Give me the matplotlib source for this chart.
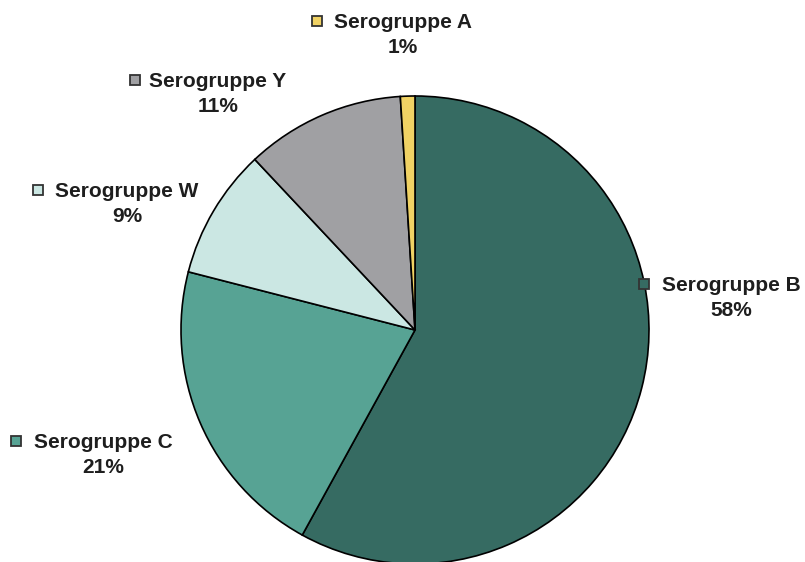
import matplotlib.pyplot as plt
from matplotlib.patches import Rectangle

# -----------------------------
# Data
# -----------------------------
groups = ["Serogruppe B", "Serogruppe C", "Serogruppe W", "Serogruppe Y", "Serogruppe A"]
shares = [58, 21, 9, 11, 1]
colors = ["#366b62", "#57a394", "#cbe7e3", "#a0a0a3", "#f0d264"]

# label layout in pixels: (text centre x, first-line baseline y, marker x)
label_pos = {
    "Serogruppe B": (731, 291, 644),
    "Serogruppe C": (103, 448, 16),
    "Serogruppe W": (127, 197, 38),
    "Serogruppe Y": (218, 87, 135),
    "Serogruppe A": (403, 28, 317),
}

W, H = 805, 562
cx, cy, r = 415, 330, 234


def px(x, y):
    return (x - cx) / r, (cy - y) / r


fig = plt.figure(figsize=(W / 100, H / 100), dpi=100)
ax = fig.add_axes([0, 0, 1, 1])

ax.pie(shares, colors=colors, startangle=90, counterclock=False, radius=1,
       wedgeprops={"edgecolor": "black", "linewidth": 1.2})

ax.set_xlim(-cx / r, (W - cx) / r)
ax.set_ylim(-(H - cy) / r, cy / r)
ax.set_aspect("equal")
ax.axis("off")

font = dict(fontsize=15, fontweight="bold", family="Liberation Sans", color="#1e1e1e")

for name, share, col in zip(groups, shares, colors):
    tx, ty, mx = label_pos[name]
    ax.text(*px(tx, ty), name, ha="center", va="baseline", **font)
    ax.text(*px(tx, ty + 25), f"{share}%", ha="center", va="baseline", **font)
    s = 10 / r
    mxd, myd = px(mx, ty - 7)
    ax.add_patch(Rectangle((mxd - s / 2, myd - s / 2), s, s, facecolor=col,
                           edgecolor="#333333", linewidth=1.3, zorder=5))

fig.savefig("out.png", dpi=100)
